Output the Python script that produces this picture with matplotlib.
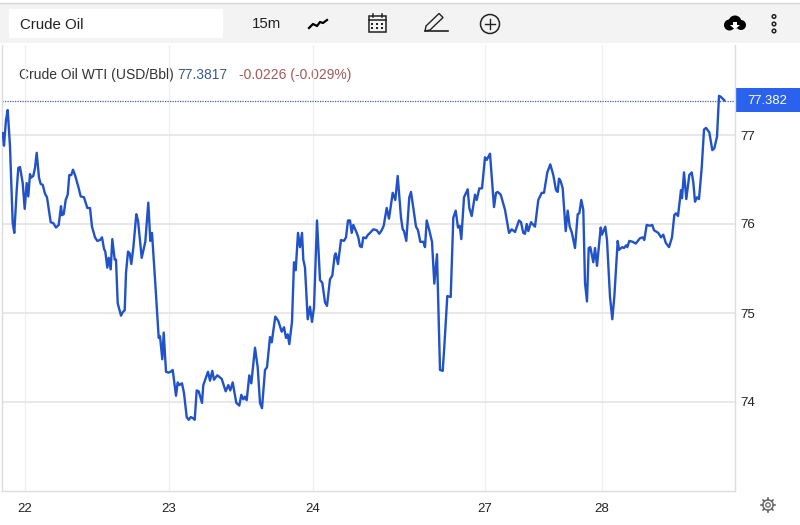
import matplotlib
matplotlib.use('Agg')
import matplotlib.pyplot as plt
import numpy as np
from matplotlib.patches import Rectangle, Circle, Polygon

plt.rcParams['font.family'] = ['Liberation Sans', 'DejaVu Sans']

# chart data
positions = [
    2.7, 4, 6, 7.7, 10, 12.7, 14.3, 16.7, 18.3, 20, 22.7, 24.7, 26.7, 28.3, 30, 31, 33.3, 35, 36.7, 39,
    40.7, 42.7, 45, 47, 50.7, 53.3, 56, 58.7, 61, 62, 63.7, 65.7, 67.7, 69.3, 71.3, 73, 75, 78.3, 80.7, 84,
    87.3, 90, 92, 95, 97.3, 100, 102, 104, 105.3, 107.3, 108.7, 110.7, 112.3, 114.7, 116, 117.7, 121, 122.7, 124.7, 126,
    128, 129.7, 131.3, 133.3, 136.3, 138, 141.7, 145.3, 148.3, 150.3, 152, 155.7, 158.7, 160, 162.3, 163.7, 166, 168.3, 170.7, 172.7,
    176, 177.7, 179.3, 182, 184, 186.7, 188.7, 190.7, 192.7, 194.7, 196.7, 198.7, 202, 203.3, 208, 210, 212.3, 214, 217.3, 221.7,
    225.7, 228.3, 230.3, 232.7, 236.3, 239.3, 241.3, 243.3, 245, 246.7, 249.3, 251.3, 255, 257.7, 260, 262, 265, 267, 270, 271.7,
    275.3, 278.3, 281.7, 284, 286, 287.7, 289.3, 292, 294, 295.7, 298, 300, 302, 303.3, 305, 307.7, 310, 312, 314, 317,
    320, 322.3, 325, 327, 330, 332.3, 334.7, 335.7, 338, 341, 344, 346, 348, 350, 351.7, 353.3, 356.7, 358.3, 360, 361.7,
    363.3, 366, 367.3, 370, 373.3, 376.7, 379.3, 381.7, 383.7, 386.7, 389, 392.7, 395.3, 397.7, 401, 402.7, 404, 406.3, 409.3, 411,
    416, 418, 420.3, 423.3, 425, 426.7, 429.3, 432, 434.3, 437, 440, 442.7, 444.3, 447.3, 450.7, 453.3, 455.7, 458, 459.7, 461.3,
    464, 467.7, 469.3, 471.7, 475, 476.7, 479.3, 482, 485, 486.7, 490, 494, 496, 497.7, 500.7, 505, 509, 511.7, 515, 519,
    521, 523.3, 525, 526.7, 528.3, 531, 535, 538.3, 541.7, 544, 547.3, 550.3, 553.3, 556, 557.7, 559, 560.7, 562.7, 565.7, 567.7,
    569.7, 571.7, 575, 577.7, 579.3, 581.3, 583.3, 585, 587, 588.7, 590.3, 593.3, 595, 597, 600.7, 602, 605.3, 607, 610, 612.3,
    614.3, 617.7, 619, 622.3, 624, 626, 627.3, 629.3, 632.7, 635.7, 640, 642.7, 644.3, 646.7, 650, 652.3, 654, 658.3, 661, 663.3,
    665.7, 669, 672, 674.3, 676, 678, 681, 682, 684, 686.3, 689.3, 691.7, 693.3, 695, 697, 699, 701.7, 704, 706, 709.3,
    712.3, 714.3, 717, 719, 720.7, 724.3,
]
prices = [
    77.02, 76.88, 77.17, 77.28, 76.87, 76.01, 75.90, 76.38, 76.63, 76.64, 76.46, 76.17, 76.46, 76.31, 76.56, 76.52, 76.54, 76.63, 76.80, 76.52,
    76.45, 76.44, 76.34, 76.30, 76.02, 76.01, 75.96, 75.99, 76.20, 76.10, 76.11, 76.27, 76.33, 76.55, 76.55, 76.61, 76.55, 76.42, 76.31, 76.30,
    76.18, 76.18, 75.97, 75.85, 75.81, 75.82, 75.85, 75.72, 75.69, 75.51, 75.62, 75.49, 75.83, 75.60, 75.60, 75.11, 74.97, 75.01, 75.03, 75.45,
    75.69, 75.67, 75.55, 75.73, 76.11, 76.04, 75.62, 75.80, 76.24, 75.81, 75.90, 75.26, 74.72, 74.74, 74.48, 74.78, 74.34, 74.33, 74.34, 74.36,
    74.07, 74.22, 74.19, 74.21, 74.10, 73.83, 73.80, 73.83, 73.82, 73.80, 74.13, 74.12, 73.99, 74.19, 74.34, 74.24, 74.35, 74.25, 74.30, 74.26,
    74.12, 74.19, 74.13, 74.22, 73.99, 73.96, 74.08, 74.03, 74.06, 74.02, 74.30, 74.21, 74.61, 74.39, 73.99, 73.93, 74.36, 74.39, 74.73, 74.67,
    74.96, 74.91, 74.79, 74.84, 74.72, 74.76, 74.65, 74.90, 75.57, 75.48, 75.90, 75.74, 75.90, 75.60, 75.51, 74.93, 75.07, 74.90, 75.06, 76.04,
    75.37, 75.34, 75.12, 75.08, 75.38, 75.42, 75.65, 75.67, 75.55, 75.82, 75.81, 75.85, 76.04, 76.04, 75.90, 75.99, 75.90, 75.85, 75.75, 75.74,
    75.85, 75.84, 75.87, 75.90, 75.94, 75.93, 75.89, 75.93, 75.98, 76.18, 76.06, 76.35, 76.27, 76.54, 76.07, 75.94, 75.92, 75.81, 76.30, 76.36,
    75.97, 75.93, 75.80, 75.80, 75.74, 76.04, 75.93, 75.80, 75.33, 75.66, 74.36, 74.35, 74.62, 75.19, 75.18, 76.07, 76.15, 75.96, 75.98, 75.83,
    76.30, 76.39, 76.18, 76.09, 76.33, 76.27, 76.40, 76.40, 76.75, 76.72, 76.79, 76.19, 76.35, 76.36, 76.33, 76.16, 75.90, 75.94, 75.91, 76.04,
    76.02, 75.90, 75.89, 76.00, 75.92, 76.02, 75.97, 76.27, 76.35, 76.35, 76.58, 76.67, 76.55, 76.38, 76.36, 76.51, 76.48, 76.40, 75.92, 76.15,
    75.97, 75.91, 75.73, 76.11, 76.12, 76.27, 76.16, 75.34, 75.13, 75.73, 75.74, 75.57, 75.73, 75.53, 75.96, 75.88, 75.97, 75.82, 75.18, 74.93,
    75.18, 75.81, 75.71, 75.74, 75.73, 75.76, 75.74, 75.81, 75.80, 75.78, 75.84, 75.85, 75.82, 75.99, 75.98, 75.99, 75.93, 75.90, 75.85, 75.88,
    75.79, 75.74, 75.85, 76.10, 76.12, 76.09, 76.38, 76.29, 76.58, 76.28, 76.55, 76.58, 76.47, 76.25, 76.30, 76.28, 76.63, 77.06, 77.08, 77.03,
    76.83, 76.85, 76.98, 77.44, 77.43, 77.39,
]
date_ticks = [24.5, 168.5, 313, 485, 602]
date_labels = ['22', '23', '24', '27', '28']
price_ticks = [74, 75, 76, 77]
last_price = 77.382

W, H = 800, 525
fig = plt.figure(figsize=(W / 100, H / 100), dpi=100, facecolor='white')

# overlay in pixel coordinates for the toolbar and icons
ui = fig.add_axes([0, 0, 1, 1])
ui.set_xlim(0, W)
ui.set_ylim(H, 0)
ui.axis('off')

ax = fig.add_axes([2 / W, 1 - 491 / H, 733 / W, 446 / H])
ax.patch.set_alpha(0)
ax.set_xlim(2, 735)
# 89 px per dollar, 77 sits at y=135
ax.set_ylim(73, 77 + 90 / 89)

ax.plot(positions, prices, color='#2152c8', linewidth=1.7, solid_joinstyle='round', zorder=3)
ax.axhline(last_price, color='#3f62a0', linewidth=0.9, linestyle=(0, (1, 1)), zorder=2)

ax.set_xticks(date_ticks)
ax.set_xticklabels(date_labels, fontsize=9.5, color='#222222')
ax.set_yticks(price_ticks)
ax.set_yticklabels([str(p) for p in price_ticks], fontsize=9.6, color='#222222')
ax.yaxis.tick_right()
ax.tick_params(axis='both', length=0)
ax.tick_params(axis='x', pad=9)
ax.tick_params(axis='y', pad=4)
for label in ax.get_yticklabels():
    label.set_y(label.get_position()[1])
ax.grid(axis='y', color='#e4e4e4', linewidth=1.2)
ax.grid(axis='x', color='#f0f0f0', linewidth=1)
ax.set_axisbelow(True)
ax.spines['top'].set_visible(False)
for side in ['left', 'right', 'bottom']:
    ax.spines[side].set_color('#dcdcdc')
    ax.spines[side].set_linewidth(1)

# toolbar
ui.add_patch(Rectangle((0, 3), W, 40, color='#f3f3f3', lw=0))
ui.plot([0, W], [2.5, 2.5], color='#d8d8d8', lw=1)
ui.add_patch(Rectangle((9, 9), 214, 29, color='white', lw=0))
ui.text(20, 25, 'Crude Oil', fontsize=10.8, color='#222222', va='center')
ui.text(252, 24, '15m', fontsize=10.8, color='#222222', va='center')

# trend icon
ui.plot([309, 313, 317, 320, 323, 327], [28, 24, 26, 22, 23, 20], color='black', lw=1.6)

# calendar icon
ui.add_patch(Rectangle((368.5, 15.5), 17.5, 16, fc='none', ec='#222222', lw=1.1))
ui.plot([368.5, 386], [19.5, 19.5], color='#222222', lw=1.1)
ui.plot([372.5, 372.5], [13.5, 17], color='#222222', lw=1.1)
ui.plot([382, 382], [13.5, 17], color='#222222', lw=1.1)
ui.scatter([372, 377, 382, 372, 377, 382], [23.5, 23.5, 23.5, 27.5, 27.5, 27.5], s=3, color='#222222', marker='s', lw=0)

# pencil icon
ui.add_patch(Polygon([[426, 26], [439, 13.5], [443, 17.5], [430, 30], [425, 31]], fc='none', ec='#222222', lw=1))
ui.plot([425, 448], [31, 31], color='#222222', lw=1.2)

# add icon
ui.add_patch(Circle((490, 24), 9.5, fc='none', ec='#222222', lw=1.1))
ui.plot([485, 495], [24, 24], color='#222222', lw=1)
ui.plot([490, 490], [19, 29], color='#222222', lw=1)

# cloud download icon
for cx, cy, r in [(729.5, 25, 5.5), (735, 22, 6.5), (741, 25, 5)]:
    ui.add_patch(Circle((cx, cy), r, color='black', lw=0))
ui.add_patch(Polygon([[733, 22], [737, 22], [737, 25], [740, 25], [735, 29.5], [730, 25], [733, 25]], color='white', lw=0))

# menu dots
for cy in [16.5, 24, 31]:
    ui.add_patch(Circle((774, cy), 1.8, fc='none', ec='#222222', lw=1.1))

# legend line
ui.text(19, 75, 'Crude Oil WTI (USD/Bbl)', fontsize=10, color='#333333', va='center')
ui.text(177, 75, '77.3817', fontsize=10, color='#3c5a88', va='center')
ui.text(239, 75, '-0.0226 (-0.029%)', fontsize=10, color='#a35a5a', va='center')

# last price tag
ui.add_patch(Rectangle((735, 88), 65, 24, color='#2a62ee', lw=0, zorder=5))
ui.text(767.5, 100.5, '77.382', fontsize=9.4, color='white', ha='center', va='center', zorder=6)
ax.spines['right'].set_zorder(1)

# settings gear
ui.add_patch(Circle((768, 505), 5.2, fc='none', ec='#666666', lw=1))
ui.add_patch(Circle((768, 505), 2.2, fc='none', ec='#666666', lw=0.9))
for a in np.radians(np.arange(0, 360, 45)):
    ui.plot([768 + 5.2 * np.cos(a), 768 + 7 * np.cos(a)], [505 + 5.2 * np.sin(a), 505 + 7 * np.sin(a)],
            color='#666666', lw=1.2)

fig.savefig('out.png', dpi=100)
